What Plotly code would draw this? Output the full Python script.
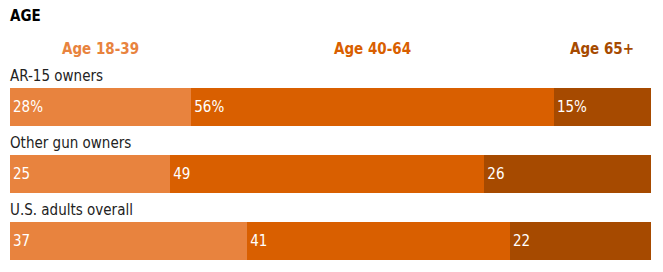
import plotly.graph_objects as go

categories = ["AR-15 owners", "Other gun owners", "U.S. adults overall"]
age_groups = ["Age 18-39", "Age 40-64", "Age 65+"]
age_18_39 = [28, 25, 37]
age_40_64 = [56, 49, 41]
age_65_plus = [15, 26, 22]
series = [age_18_39, age_40_64, age_65_plus]
colors = ["#e8833e", "#d95f00", "#a64a00"]

FONT = "Liberation Sans Narrow, DejaVu Sans Condensed, Arial Narrow, sans-serif"

fig = go.Figure()
for gi, (name, vals, col) in enumerate(zip(age_groups, series, colors)):
    texts = [f"{v}%" if ci == 0 else f"{v}" for ci, v in enumerate(vals)]
    fig.add_trace(go.Bar(
        y=categories, x=vals, orientation="h", name=name,
        marker=dict(color=col, line=dict(width=0)),
        text=texts, textposition="inside", insidetextanchor="start",
        textfont=dict(color="white", size=15, family=FONT),
        constraintext="none", hoverinfo="skip",
    ))

annotations = []
# category labels above each bar
for ci, cat in enumerate(categories):
    annotations.append(dict(
        x=0, xref="paper", y=ci - 0.285, yref="y", text=cat,
        showarrow=False, xanchor="left", yanchor="bottom", yshift=1, xshift=-2,
        font=dict(size=15, color="#222222", family=FONT),
    ))

# column headers centered over the first row's segments
tot = sum(s[0] for s in series)
cum = 0
for name, vals, col in zip(age_groups, series, colors):
    v = vals[0] / tot * 100
    annotations.append(dict(
        x=cum + v / 2, xref="x", y=1.125, yref="paper", text=f"<b>{name}</b>",
        showarrow=False, xanchor="center", yanchor="middle",
        font=dict(size=15, color=col, family=FONT),
    ))
    cum += v

annotations.append(dict(
    x=0, xref="paper", y=1.295, yref="paper", text="<b>AGE</b>",
    showarrow=False, xanchor="left", yanchor="middle", xshift=-2,
    font=dict(size=15, color="#000000", family=FONT),
))

fig.update_layout(
    width=663, height=272,
    margin=dict(l=10, r=12, t=74, b=0),
    barmode="stack", barnorm="percent", bargap=0.43,
    plot_bgcolor="white", paper_bgcolor="white",
    showlegend=False,
    xaxis=dict(range=[0, 100], visible=False, fixedrange=True),
    yaxis=dict(range=[2.47, -0.5], visible=False, fixedrange=True,
               categoryorder="array", categoryarray=categories),
    annotations=annotations,
)

fig.write_html("out.html")
